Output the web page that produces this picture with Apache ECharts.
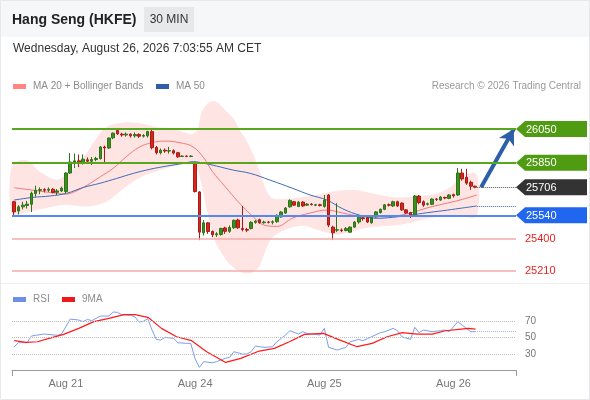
<!DOCTYPE html>
<html>
<head>
<meta charset="utf-8">
<title>Hang Seng (HKFE) 30 MIN</title>
<script src="https://cdn.jsdelivr.net/npm/echarts@6/dist/echarts.min.js"></script>
<style>
  html, body { margin: 0; padding: 0; background: #fff; }
  #chart { width: 590px; height: 400px; }
</style>
</head>
<body>
<div id="chart"></div>
<script>
// 30 min bars, [open, close, low, high]
const candles = [
  [25620,25560,25541,25625],[25565,25590,25545,25600],[25590,25600,25575,25620],[25598,25606,25580,25625],
  [25605,25670,25559,25680],[25668,25688,25650,25715],[25688,25692,25665,25705],[25692,25688,25675,25700],
  [25688,25694,25678,25705],[25694,25675,25670,25700],[25676,25684,25660,25695],[25684,25700,25678,25710],
  [25680,25790,25672,25795],[25790,25855,25785,25908],[25855,25862,25820,25905],[25862,25850,25825,25900],
  [25850,25872,25840,25900],[25868,25860,25845,25882],[25860,25870,25837,25885],[25870,25876,25860,25886],
  [25875,25944,25870,25950],[25944,25938,25855,25952],[25938,25997,25932,26000],[25998,26026,25990,26030],
  [26042,26022,26015,26048],[26020,26015,26005,26028],[26015,26020,26005,26030],[26020,26010,26000,26025],
  [26010,26018,26000,26030],[26018,26008,25998,26025],[26008,26012,26000,26020],[26010,26035,26000,26040],
  [26035,25940,25930,26045],[25942,25910,25900,25950],[25910,25925,25900,25935],[25925,25920,25910,25935],
  [25920,25922,25905,25945],[25922,25908,25900,25930],[25910,25886,25880,25915],[25888,25890,25885,25895],
  [25890,25888,25884,25894],[25888,25890,25884,25895],[25850,25680,25675,25856],[25678,25440,25393,25682],
  [25436,25495,25420,25512],[25495,25444,25430,25500],[25444,25425,25410,25450],[25425,25430,25412,25440],
  [25426,25462,25420,25466],[25465,25445,25430,25472],[25445,25468,25436,25480],[25466,25510,25460,25515],
  [25512,25466,25460,25520],[25462,25456,25445,25595],[25456,25452,25440,25465],[25462,25498,25456,25505],
  [25498,25505,25490,25512],[25514,25496,25490,25520],[25496,25500,25490,25508],[25500,25498,25492,25506],
  [25498,25502,25486,25510],[25502,25540,25496,25545],[25530,25559,25526,25564],[25553,25583,25548,25588],
  [25590,25628,25585,25634],[25620,25600,25595,25625],[25592,25618,25588,25624],[25618,25595,25590,25624],
  [25600,25606,25595,25612],[25606,25603,25598,25612],[25600,25602,25594,25608],[25602,25598,25592,25608],
  [25592,25630,25585,25660],[25660,25482,25470,25665],[25470,25436,25393,25478],[25452,25455,25440,25612],
  [25453,25450,25440,25462],[25450,25462,25445,25470],[25440,25470,25436,25475],[25470,25500,25465,25505],
  [25500,25529,25490,25533],[25525,25520,25508,25530],[25526,25500,25494,25530],[25496,25528,25490,25532],
  [25530,25560,25526,25565],[25556,25575,25550,25580],[25575,25602,25570,25606],[25602,25600,25592,25610],
  [25595,25620,25590,25626],[25620,25595,25590,25626],[25612,25572,25565,25616],[25572,25553,25548,25576],
  [25556,25540,25524,25560],[25543,25654,25535,25660],[25654,25615,25605,25660],[25620,25600,25590,25628],
  [25605,25608,25598,25615],[25605,25636,25600,25640],[25636,25634,25625,25642],[25630,25648,25625,25652],
  [25645,25642,25635,25650],[25640,25660,25635,25665],[25662,25655,25645,25668],[25660,25790,25655,25820],
  [25790,25755,25745,25815],[25765,25730,25720,25815],[25735,25712,25690,25745],[25712,25706,25700,25715]
];

// bar slots on the time axis (108 bars + empty room on the right)
const slotCount = 117;
const dayTicks = [12, 42, 72, 102];
const dayLabels = ['Aug 21', 'Aug 24', 'Aug 25', 'Aug 26'];

// MA 20 (bar index, value)
const ma20Idx = [0, 3, 7, 10, 12, 14, 17, 20, 23, 26, 29, 32, 35, 38.5, 41.5, 44, 46, 49, 52, 55.5, 58, 61, 64.7, 68.7, 72.6, 76.3, 80.3, 84.2, 88, 92, 95.8, 99.5, 103.5, 107.4];
const ma20 = [25703, 25693, 25679, 25670, 25665, 25679, 25719, 25768, 25818, 25886, 25942, 25970, 25979, 25969, 25945, 25880, 25800, 25709, 25620, 25531, 25482, 25474, 25524, 25553, 25571, 25553, 25535, 25531, 25535, 25553, 25583, 25606, 25630, 25660];

// MA 50
const ma50Idx = [0, 4.4, 8.3, 12.2, 16.1, 19.9, 23.8, 27.7, 31.5, 35.4, 39.3, 41.6, 43.1, 47, 50.9, 54.8, 59.4, 64.7, 68.7, 72.6, 76.3, 80.3, 84.2, 87.9, 91.9, 95.8, 99.5, 103.5, 107.4];
const ma50 = [25630, 25646, 25654, 25670, 25705, 25729, 25758, 25788, 25812, 25831, 25847, 25857, 25853, 25831, 25807, 25788, 25748, 25699, 25660, 25630, 25578, 25540, 25522, 25528, 25541, 25555, 25567, 25581, 25595];

// Bollinger bands
const bandIdx = [-0.5, 3, 6, 10, 13, 17, 21, 25, 29, 33, 37, 41, 42.5, 43.5, 45, 46.5, 48, 49.5, 51, 52.5, 54, 55.5, 57, 58.5, 60, 63, 67, 71, 75, 79, 83, 87, 91, 95, 99, 102, 104, 107.4];
const bandUpper = [25837, 25865, 25797, 25750, 25800, 25915, 26055, 26088, 26084, 26062, 26052, 26020, 26044, 26150, 26204, 26216, 26190, 26150, 26110, 26040, 25980, 25900, 25800, 25690, 25640, 25636, 25648, 25665, 25685, 25689, 25670, 25650, 25646, 25655, 25676, 25720, 25778, 25780];
const bandLower = [25551, 25558, 25575, 25597, 25600, 25592, 25615, 25690, 25760, 25800, 25828, 25845, 25810, 25720, 25540, 25393, 25322, 25265, 25228, 25205, 25195, 25205, 25240, 25340, 25410, 25455, 25478, 25450, 25425, 25450, 25470, 25478, 25490, 25515, 25533, 25533, 25531, 25535];

// RSI and its 9 period MA
const rsiIdx = [0, 1, 3, 4, 5, 7, 10, 11, 12, 13, 15, 16, 17, 18, 20, 22, 23, 24, 25, 27, 28, 29, 30, 31, 32, 33, 34, 35, 37, 38, 40, 41, 42, 43, 44, 46, 47, 49, 50, 51, 53, 54, 55, 56, 58, 60, 61, 63, 64, 66, 67, 68, 69, 71, 72, 73, 75, 77, 78, 80, 81, 83, 85, 86, 88, 89, 90, 92, 93, 94, 95, 97, 99, 100, 101, 102, 103, 104, 106, 107];
const rsi = [38.9, 43.8, 43.8, 52, 53, 54.5, 53, 54.5, 63.6, 73, 71.8, 69.8, 72.6, 71, 76.7, 76.7, 81.7, 81.3, 78.4, 77.6, 75.9, 69.3, 70.2, 73.5, 59.5, 47.9, 47, 50.4, 49.2, 43.8, 43, 43, 24, 13.4, 20.4, 19.1, 20.4, 24.5, 25.7, 32.7, 29.8, 29.8, 32.7, 39.7, 38, 38.9, 45, 53.3, 58.6, 54.5, 57.4, 55.3, 54.5, 53.3, 61.5, 38, 34.8, 38, 45, 47.9, 46.3, 51.2, 56.2, 57.4, 61.5, 58.6, 51.2, 47.9, 62.8, 56.2, 59.5, 57.4, 58.6, 59.5, 57.4, 63.6, 69.8, 65.6, 57.4, 57.4];
const rsiMaIdx = [0, 2.8, 5.4, 8.1, 11.5, 15, 18.5, 22, 25.5, 28.1, 31.2, 34.2, 37.7, 41.2, 44.7, 49.1, 52.6, 56.9, 60.4, 63.9, 67.4, 71.8, 75.2, 79.6, 83.1, 86.6, 90.1, 93.6, 97.1, 100.1, 103.2, 105.4, 107.1];
const rsiMa = [46.3, 44.2, 45, 49.2, 54.1, 61.5, 69.8, 73.9, 78.4, 78.4, 74.7, 61.5, 51.2, 46.3, 32.7, 19.5, 24.5, 33.5, 36.8, 45, 54.1, 55.3, 47.9, 38.9, 43, 51.2, 56.2, 54.5, 54.5, 58.6, 60.3, 61.5, 60.7];
const rsiLevels = [30, 50, 70];

// Trading Central levels
const levels = [26050, 25850, 25706, 25540, 25400, 25210];
const levelKinds = ['target', 'target', 'last', 'support', 'pivot', 'pivot'];

const FONT = "'Liberation Sans', Arial, Helvetica, sans-serif";
const xMax = slotCount - 0.5;
const pairs = (xs, ys) => xs.map((x, i) => [x, ys[i]]);
const lastClose = candles[candles.length - 1][1];
const lastBar = candles.length - 1;
const ma50Last = ma50[ma50.length - 1];
const rsiLast = rsi[rsi.length - 1];
const targetTop = levels[0];

const kindColor = { target: '#4f9c12', last: '#333333', support: '#2066ee', pivot: '#e52222' };
const kindLine = {
  target: { color: '#57a61d', width: 2, type: 'solid' },
  last: { color: '#ffffff', width: 0, type: 'solid', opacity: 0 },
  support: { color: '#5389f0', width: 2, type: 'solid' },
  pivot: { color: '#f6aaaa', width: 1.5, type: 'solid' }
};

const chart = echarts.init(document.getElementById('chart'));

const option = {
  animation: false,
  backgroundColor: '#fff',
  textStyle: { fontFamily: FONT },
  graphic: [
    { type: 'rect', shape: { x: 0, y: 0, width: 590, height: 37 }, style: { fill: '#f6f7f8' }, silent: true, z: -10 },
    { type: 'rect', shape: { x: 0.5, y: 0.5, width: 589, height: 399 }, style: { fill: 'none', stroke: '#e6e8ec', lineWidth: 1 }, silent: true, z: -9 },
    { type: 'line', shape: { x1: 1, y1: 283.5, x2: 589, y2: 283.5 }, style: { stroke: '#eef0f2', lineWidth: 1 }, silent: true },
    { type: 'text', x: 12, y: 20, style: { text: 'Hang Seng (HKFE)', font: 'bold 14px ' + FONT, fill: '#222', verticalAlign: 'middle' } },
    { type: 'rect', shape: { x: 144, y: 7, width: 50, height: 25 }, style: { fill: '#e7e8ea' } },
    { type: 'text', x: 169, y: 20, style: { text: '30 MIN', font: '12px ' + FONT, fill: '#333', align: 'center', verticalAlign: 'middle' } },
    { type: 'text', x: 13, y: 49, style: { text: 'Wednesday, August 26, 2026 7:03:55 AM CET', font: '12px ' + FONT, fill: '#333', verticalAlign: 'middle' } },
    { type: 'rect', shape: { x: 13, y: 84, width: 13, height: 5 }, style: { fill: '#ff8585' } },
    { type: 'text', x: 33, y: 86.5, style: { text: 'MA 20 + Bollinger Bands', font: '10px ' + FONT, fill: '#8c8c8c', verticalAlign: 'middle' } },
    { type: 'rect', shape: { x: 156, y: 84, width: 13, height: 5 }, style: { fill: '#2f5ea8' } },
    { type: 'text', x: 176, y: 86.5, style: { text: 'MA 50', font: '10px ' + FONT, fill: '#8c8c8c', verticalAlign: 'middle' } },
    { type: 'text', x: 581, y: 86.5, style: { text: 'Research © 2026 Trading Central', font: '10px ' + FONT, fill: '#9a9a9a', align: 'right', verticalAlign: 'middle' } },
    { type: 'rect', shape: { x: 13, y: 297, width: 13, height: 5 }, style: { fill: '#6d8fe8' } },
    { type: 'text', x: 33, y: 299.5, style: { text: 'RSI', font: '10px ' + FONT, fill: '#8c8c8c', verticalAlign: 'middle' } },
    { type: 'rect', shape: { x: 62, y: 297, width: 13, height: 5 }, style: { fill: '#f01818' } },
    { type: 'text', x: 82, y: 299.5, style: { text: '9MA', font: '10px ' + FONT, fill: '#8c8c8c', verticalAlign: 'middle' } }
  ],
  grid: [
    { left: 12, right: 74, top: 100, height: 180 },
    { left: 12, right: 74, top: 305.3, height: 64.8 }
  ],
  xAxis: [
    { type: 'category', gridIndex: 0, data: Array.from({ length: slotCount }, (_, i) => i), boundaryGap: true, show: false },
    { type: 'value', gridIndex: 0, min: -0.5, max: xMax, show: false },
    {
      type: 'value', gridIndex: 1, min: -0.5, max: xMax,
      axisLine: { show: true, lineStyle: { color: '#999' } },
      axisTick: { show: true, customValues: [-0.5, xMax], length: 6, lineStyle: { color: '#999' } },
      axisLabel: {
        customValues: dayTicks,
        formatter: v => dayLabels[dayTicks.indexOf(Math.round(v))] || '',
        color: '#777', fontSize: 11, margin: 8, fontFamily: FONT
      },
      splitLine: { show: false }
    }
  ],
  yAxis: [
    { type: 'value', gridIndex: 0, min: 25157, max: 26222, show: false },
    {
      type: 'value', gridIndex: 1, min: 10, max: 90, position: 'right',
      axisLine: { show: false }, axisTick: { show: false }, splitLine: { show: false },
      axisLabel: { customValues: rsiLevels, color: '#777', fontSize: 10, margin: 9, fontFamily: FONT }
    }
  ],
  series: [
    {
      name: 'Bollinger', type: 'custom', xAxisIndex: 1, yAxisIndex: 0, z: 1, silent: true,
      data: pairs(bandIdx, bandUpper),
      renderItem: function (params, api) {
        if (params.dataIndex !== 0) return null;
        const pts = [];
        for (let i = 0; i < bandIdx.length; i++) pts.push(api.coord([bandIdx[i], bandUpper[i]]));
        for (let i = bandIdx.length - 1; i >= 0; i--) pts.push(api.coord([bandIdx[i], bandLower[i]]));
        return { type: 'polygon', shape: { points: pts, smooth: 0.3 }, style: { fill: 'rgba(255,190,190,0.42)' } };
      }
    },
    {
      name: 'MA 20 + Bollinger Bands', type: 'line', xAxisIndex: 1, yAxisIndex: 0, z: 3,
      data: pairs(ma20Idx, ma20), smooth: 0.4, symbol: 'none',
      lineStyle: { color: '#f07a7a', width: 1 }
    },
    {
      name: 'MA 50', type: 'line', xAxisIndex: 1, yAxisIndex: 0, z: 3,
      data: pairs(ma50Idx, ma50), smooth: 0.4, symbol: 'none',
      lineStyle: { color: '#3d6cb5', width: 1 },
      markLine: {
        silent: true, symbol: ['none', 'none'], label: { show: false }, animation: false,
        data: [
          [{ coord: [lastBar + 0.5, lastClose] }, { coord: [xMax, lastClose], lineStyle: { color: '#555', type: 'dotted', width: 1 } }],
          [{ coord: [lastBar + 0.5, ma50Last] }, { coord: [xMax, ma50Last], lineStyle: { color: '#3d6cb5', type: 'dotted', width: 1 } }],
          [{ coord: [lastBar + 1.4, lastClose], symbol: 'none' },
           { coord: [xMax - 0.5, targetTop], symbol: 'arrow', symbolSize: [13, 15], lineStyle: { color: '#2c5fa8', width: 4, type: 'solid' } }]
        ]
      }
    },
    {
      name: 'Hang Seng', type: 'candlestick', xAxisIndex: 0, yAxisIndex: 0, z: 4,
      data: candles, barWidth: 3,
      itemStyle: { color: '#3a8f1f', color0: '#d9261c', borderColor: '#2e7318', borderColor0: '#a81c14', borderWidth: 1 },
      markLine: {
        silent: true, symbol: ['none', 'none'], animation: false, precision: 0,
        data: levels.map((v, i) => {
          const k = levelKinds[i];
          return {
            yAxis: v,
            lineStyle: kindLine[k],
            label: k === 'pivot'
              ? { show: true, position: 'end', formatter: String(v), color: kindColor.pivot, fontSize: 11, distance: 9, fontFamily: FONT }
              : { show: false }
          };
        })
      }
    },
    {
      name: 'tags', type: 'custom', xAxisIndex: 1, yAxisIndex: 0, z: 6, clip: false, silent: true,
      data: levels.map((v, i) => [xMax, v, i]).filter(d => levelKinds[d[2]] !== 'pivot'),
      renderItem: function (params, api) {
        const p = api.coord([api.value(0), api.value(1)]);
        const k = levelKinds[api.value(2)];
        const h = 8;
        return {
          type: 'group',
          children: [
            { type: 'polygon', shape: { points: [[p[0], p[1]], [p[0] + 9, p[1] - h], [p[0] + 71, p[1] - h], [p[0] + 71, p[1] + h], [p[0] + 9, p[1] + h]] }, style: { fill: kindColor[k] } },
            { type: 'text', style: { x: p[0] + 10, y: p[1] + 0.5, text: String(api.value(1)), fill: '#fff', font: '11px ' + FONT, verticalAlign: 'middle' } }
          ]
        };
      }
    },
    {
      name: 'RSI', type: 'line', xAxisIndex: 2, yAxisIndex: 1, z: 3,
      data: pairs(rsiIdx, rsi), symbol: 'none',
      lineStyle: { color: '#7c9ef0', width: 1 },
      markLine: {
        silent: true, symbol: ['none', 'none'], label: { show: false }, animation: false,
        data: rsiLevels.map(v => ({ yAxis: v, lineStyle: { color: '#bdbdbd', type: 'dotted', width: 1 } })).concat([
          [{ coord: [lastBar, rsiLast] }, { coord: [xMax, rsiLast], lineStyle: { color: '#9fb6f2', type: 'dotted', width: 1 } }]
        ])
      }
    },
    {
      name: '9MA', type: 'line', xAxisIndex: 2, yAxisIndex: 1, z: 4,
      data: pairs(rsiMaIdx, rsiMa), symbol: 'none',
      lineStyle: { color: '#ff1a1a', width: 1.2 }
    }
  ]
};

chart.setOption(option);
</script>
</body>
</html>
